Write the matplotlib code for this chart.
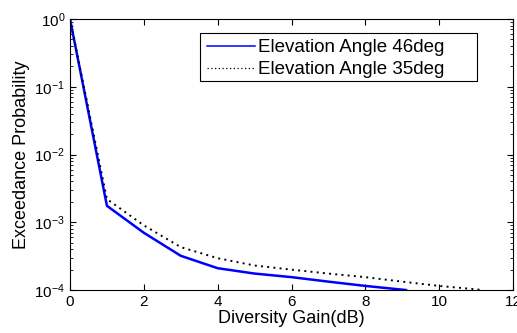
import numpy as np
import matplotlib
matplotlib.use("Agg")
import matplotlib.pyplot as plt
from matplotlib.patches import Rectangle
from matplotlib.lines import Line2D

plt.rcParams['font.family'] = ['Liberation Sans', 'DejaVu Sans']

# Exceedance curves
gain_46 = [0, 1, 2, 3, 4, 5, 6, 7, 8, 9.1]
prob_46 = [1.0, 1.75e-3, 7.0e-4, 3.2e-4, 2.1e-4, 1.75e-4, 1.55e-4, 1.33e-4, 1.15e-4, 1.0e-4]

gain_35 = [0, 1, 2, 3, 4, 5, 6, 7, 8, 9, 10, 11.2]
prob_35 = [1.0, 2.2e-3, 9.0e-4, 4.3e-4, 2.95e-4, 2.3e-4, 2.0e-4, 1.75e-4, 1.55e-4, 1.33e-4, 1.15e-4, 1.0e-4]

labels = ["Elevation Angle 46deg", "Elevation Angle 35deg"]
x_ticks = [0, 2, 4, 6, 8, 10, 12]

fig = plt.figure(figsize=(5.17, 3.33), dpi=100, facecolor="white")
ax = fig.add_axes([0.1354, 0.129, 0.857, 0.814])

ax.semilogy(gain_46, prob_46, color="#0000ff", linewidth=1.8)
ax.semilogy(gain_35, prob_35, color="black", linewidth=1.4,
            linestyle=(0, (1, 2.2)))

ax.set_xlim(0, 12)
ax.set_ylim(1e-4, 1)
ax.set_xticks(x_ticks)
ax.tick_params(which="both", direction="in", top=True, right=True,
               labelsize=11)
ax.tick_params(which="major", length=4)
ax.tick_params(which="minor", length=2.5)

ax.set_xlabel("Diversity Gain(dB)", fontsize=13, labelpad=1)
ax.set_ylabel("Exceedance Probability", fontsize=13, labelpad=3)

# MATLAB-style legend: thin handles, box drawn separately (extra room on the right)
handles = [Line2D([], [], color="#0000ff", linewidth=1.1),
           Line2D([], [], color="black", linewidth=0.9, linestyle=(0, (1, 2)))]
ax.add_patch(Rectangle((0.293, 0.771), 0.626, 0.177, transform=ax.transAxes,
                       facecolor="white", edgecolor="black", linewidth=0.8,
                       zorder=4))
leg = ax.legend(handles, labels, loc="upper left", bbox_to_anchor=(0.309, 0.925),
                fontsize=13.5, frameon=False, handlelength=2.55, borderpad=0,
                borderaxespad=0, labelspacing=0.26, handletextpad=0.2)
leg.set_zorder(5)

fig.savefig("out.png", dpi=100, facecolor="white")
